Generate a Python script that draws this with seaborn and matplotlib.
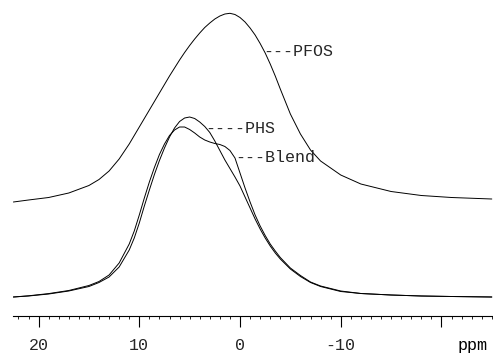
import numpy as np
import pandas as pd
import matplotlib
matplotlib.use("Agg")
import matplotlib.pyplot as plt
import matplotlib.transforms as mtransforms
import seaborn as sns

# Chemical shift axis (ppm) shared by all three spectra
ppm = [22.5, 21, 19, 17, 15, 14, 13, 12, 11, 10.5, 10, 9.5, 9, 8.5, 8, 7.5,
       7, 6.5, 6, 5.5, 5, 4.5, 4, 3.5, 3, 2.5, 2, 1.5, 1, 0.5, 0, -0.5, -1,
       -1.5, -2, -2.5, -3, -3.5, -4, -5, -6, -7, -8, -10, -12, -15, -18, -21,
       -25]

# Intensities (arbitrary units)
pfos = [3, 5, 7.5, 12, 19.5, 25.5, 34, 46, 61, 69.5, 78, 86.5, 95, 103.5, 112,
        120.5, 129, 137, 145, 152.5, 159.5, 166, 172, 177.5, 182, 186, 189,
        191, 191.7, 190.5, 187.5, 183, 177, 170, 161.5, 152, 141, 129, 116,
        91, 71, 55, 44, 30, 21, 13.5, 9.5, 7.5, 6]

phs = [3, 4, 6, 9, 13.5, 17.5, 23, 33, 50, 62, 77, 94, 110, 125.5, 139.5,
       152, 163, 172, 178.5, 182, 183, 181.5, 178, 173.5, 167.5, 159, 149.5,
       140, 131.5, 123, 114, 103, 92, 81, 71, 62, 54, 47, 41, 31, 23.5, 17.5,
       13.5, 8.5, 6.5, 5, 4, 3.5, 3]

blend = [3, 4.2, 6.4, 9.5, 14.5, 18.5, 25, 37, 56, 69, 85, 102, 118, 132.5,
         145.5, 156, 164.5, 170, 173, 173, 170.5, 167, 163, 160, 158, 156.5,
         155.5, 153.5, 149.5, 142, 127, 112, 98, 85, 74, 64.5, 56, 49, 42.5,
         32, 24.5, 18, 14, 9, 6.5, 5, 4, 3.5, 3]

# Vertical offset used to stack the PFOS spectrum above the others
pfos_offset = 95

tick_values = [20, 10, 0, -10, -20]
tick_labels = ["20", "10", "0", "-10", ""]

df = pd.DataFrame({"ppm": ppm, "PFOS": np.array(pfos) + pfos_offset,
                   "PHS": phs, "Blend": blend})

sns.set_style("white")
plt.rcParams["font.family"] = ["Liberation Mono", "DejaVu Sans Mono"]

fig = plt.figure(figsize=(4.93, 3.54), dpi=100)
ax = fig.add_axes([13 / 493, 38 / 354, 480 / 493, 316 / 354])

for name in ["PFOS", "PHS", "Blend"]:
    sns.lineplot(data=df, x="ppm", y=name, ax=ax, color="black",
                 linewidth=0.7, estimator=None, sort=False)

ax.set_xlim(22.54, -25.12)
ax.set_ylim(-16, 300)

for side in ["top", "right", "left"]:
    ax.spines[side].set_visible(False)
ax.spines["bottom"].set_linewidth(0.8)
ax.spines["bottom"].set_color("black")

ax.set_yticks([])
ax.set_xticks(tick_values)
ax.set_xticklabels(tick_labels, fontsize=12)
ax.set_xticks(np.arange(22, -26, -1), minor=True)
ax.tick_params(axis="x", which="both", bottom=True, direction="out",
               color="black")
ax.tick_params(axis="x", which="major", length=8, width=0.8, pad=7.5)
ax.tick_params(axis="x", which="minor", length=2.5, width=0.6)
ax.set_xlabel("")
ax.set_ylabel("")

# Unit label to the right of the last major tick
trans = mtransforms.blended_transform_factory(ax.transData, ax.transAxes)
ax.text(-23.05, -0.07, "ppm", transform=trans, ha="center", va="top",
        fontsize=12, color="black")

# Curve labels
ax.text(-2.28, 243.5, "---PFOS", ha="left", va="baseline", fontsize=12)
ax.text(3.48, 167, "----PHS", ha="left", va="baseline", fontsize=12)
ax.text(0.5, 138, "---Blend", ha="left", va="baseline", fontsize=12)

fig.savefig("out.png", dpi=100)
